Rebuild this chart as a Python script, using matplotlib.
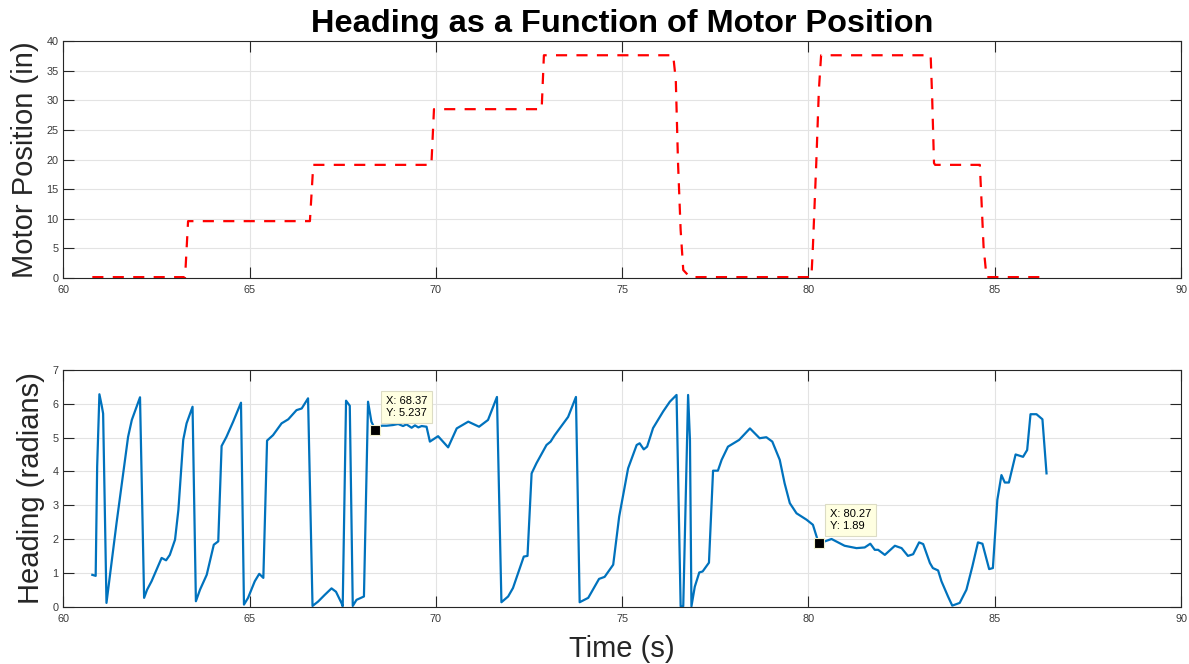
import matplotlib
matplotlib.use('Agg')
import matplotlib.pyplot as plt

plt.rcParams['font.family'] = ['Liberation Sans', 'DejaVu Sans']

# motor position (in) vs time (s)
motor_t = [60.78, 63.27, 63.35, 66.62, 66.71, 69.88, 69.95, 72.84, 72.90, 76.37,
           76.44, 76.50, 76.57, 76.64, 76.82, 80.08, 80.12, 80.21, 80.28, 80.34,
           83.28, 83.32, 83.37, 83.40, 84.60, 84.64, 84.70, 84.78, 86.39]
motor_in = [0.15, 0.15, 9.6, 9.6, 19.1, 19.1, 28.5, 28.5, 37.6, 37.6,
            33.4, 19.4, 8.1, 1.35, 0.15, 0.15, 5.3, 19.4, 31.7, 37.6,
            37.6, 30.6, 19.4, 19.1, 19.1, 13.7, 5.3, 0.15, 0.15]

# heading (radians) vs time (s)
heading_t = [60.78, 60.87, 60.91, 60.97, 61.03, 61.07, 61.16, 61.43, 61.74, 61.84,
             62.06, 62.17, 62.25, 62.37, 62.64, 62.76, 62.86, 63.00, 63.09, 63.22,
             63.31, 63.47, 63.56, 63.67, 63.85, 64.04, 64.16, 64.25, 64.38, 64.56,
             64.77, 64.85, 64.96, 65.14, 65.26, 65.37, 65.47, 65.63, 65.86, 66.04,
             66.26, 66.40, 66.57, 66.69, 66.84, 67.02, 67.20, 67.32, 67.47, 67.50,
             67.59, 67.69, 67.77, 67.87, 68.07, 68.18, 68.27, 68.37, 68.54, 68.68,
             68.85, 68.99, 69.12, 69.21, 69.35, 69.44, 69.53, 69.62, 69.75, 69.84,
             70.06, 70.33, 70.56, 70.87, 71.16, 71.40, 71.64, 71.76, 71.94, 72.07,
             72.36, 72.46, 72.57, 72.70, 72.97, 73.08, 73.19, 73.55, 73.76, 73.86,
             74.09, 74.38, 74.53, 74.76, 74.92, 75.16, 75.39, 75.47, 75.58, 75.67,
             75.83, 76.10, 76.28, 76.46, 76.57, 76.64, 76.77, 76.82, 76.86, 76.95,
             77.07, 77.16, 77.33, 77.44, 77.57, 77.67, 77.84, 78.14, 78.43, 78.69,
             78.87, 79.03, 79.23, 79.36, 79.50, 79.68, 79.95, 80.12, 80.27, 80.44,
             80.62, 80.97, 81.29, 81.51, 81.66, 81.78, 81.87, 82.05, 82.32, 82.50,
             82.67, 82.81, 82.97, 83.08, 83.26, 83.34, 83.48, 83.57, 83.75, 83.86,
             84.06, 84.24, 84.40, 84.55, 84.67, 84.85, 84.95, 85.07, 85.18, 85.27,
             85.38, 85.56, 85.76, 85.87, 85.96, 86.12, 86.28, 86.39]
heading_rad = [0.94, 0.91, 4.14, 6.28, 5.96, 5.71, 0.11, 2.47, 5.02, 5.52,
               6.19, 0.26, 0.50, 0.75, 1.44, 1.37, 1.53, 1.98, 2.86, 4.93,
               5.42, 5.91, 0.16, 0.50, 0.94, 1.83, 1.93, 4.75, 5.02, 5.47,
               6.03, 0.06, 0.26, 0.75, 0.97, 0.85, 4.91, 5.07, 5.42, 5.54,
               5.81, 5.86, 6.16, 0.02, 0.15, 0.35, 0.54, 0.44, 0.10, 0.01,
               6.09, 5.94, 0.02, 0.20, 0.30, 6.06, 5.47, 5.237, 5.35, 5.35,
               5.37, 5.40, 5.34, 5.39, 5.29, 5.36, 5.30, 5.34, 5.32, 4.88,
               5.04, 4.71, 5.27, 5.47, 5.32, 5.52, 6.20, 0.13, 0.30, 0.55,
               1.48, 1.50, 3.94, 4.24, 4.78, 4.88, 5.07, 5.61, 6.20, 0.13,
               0.26, 0.82, 0.88, 1.24, 2.66, 4.09, 4.78, 4.83, 4.65, 4.73,
               5.28, 5.77, 6.06, 6.26, 0.01, 0.01, 6.26, 4.93, 0.01, 0.59,
               1.01, 1.04, 1.30, 4.02, 4.02, 4.34, 4.73, 4.93, 5.27, 4.98,
               5.01, 4.88, 4.34, 3.65, 3.06, 2.76, 2.57, 2.42, 1.89, 1.93,
               2.00, 1.80, 1.73, 1.75, 1.86, 1.68, 1.68, 1.53, 1.80, 1.73,
               1.50, 1.55, 1.90, 1.85, 1.29, 1.14, 1.07, 0.75, 0.29, 0.03,
               0.11, 0.50, 1.19, 1.90, 1.86, 1.11, 1.14, 3.16, 3.89, 3.67,
               3.67, 4.50, 4.43, 4.63, 5.69, 5.69, 5.54, 3.94]

# data tips shown on the heading plot
tip_t = [68.37, 80.27]
tip_rad = [5.237, 1.89]
tip_text = ['X: 68.37\nY: 5.237', 'X: 80.27\nY: 1.89']

axis_col = '#262626'
fig = plt.figure(figsize=(11.89, 6.64), dpi=100)
ax1 = fig.add_axes([0.0532, 0.5813, 0.9401, 0.3569])
ax2 = fig.add_axes([0.0532, 0.0864, 0.9401, 0.3565])


def style(ax):
    ax.set_xlim(60, 90)
    ax.set_xticks(range(60, 91, 5))
    ax.grid(True, color='#e3e3e3', linewidth=0.8)
    ax.set_axisbelow(True)
    for s in ax.spines.values():
        s.set_color(axis_col)
        s.set_linewidth(0.8)
    ax.tick_params(direction='in', length=8, width=0.8, color=axis_col,
                   top=True, right=True, labelsize=7.8, labelcolor='#3a3a3a')
    ax.tick_params(axis='x', pad=5)
    ax.tick_params(axis='y', pad=3.5)


style(ax1)
ax1.plot(motor_t, motor_in, color='red', linestyle=(0, (5, 4.2)), linewidth=1.6)
ax1.set_ylim(0, 40)
ax1.set_yticks(range(0, 41, 5))
ax1.set_ylabel('Motor Position (in)', fontsize=21, color=axis_col, labelpad=5)
ax1.set_title('Heading as a Function of Motor Position', fontsize=23.4,
              fontweight='bold', pad=6.5)

style(ax2)
ax2.plot(heading_t, heading_rad, color='#0072BD', linewidth=1.6)
ax2.set_ylim(0, 7)
ax2.set_yticks(range(0, 8))
ax2.set_ylabel('Heading (radians)', fontsize=21, color=axis_col, labelpad=5)
ax2.set_xlabel('Time (s)', fontsize=21, color=axis_col, labelpad=8.5)

for t, r, txt in zip(tip_t, tip_rad, tip_text):
    ax2.plot(t, r, marker='s', markersize=6.5, color='black',
             markeredgecolor='#f2f2d0', markeredgewidth=0.8, zorder=5)
    ax2.annotate(txt, xy=(t, r), xytext=(11, 12), textcoords='offset pixels',
                 ha='left', va='bottom', fontsize=8, color='black',
                 linespacing=1.25,
                 bbox=dict(boxstyle='square,pad=0.45', fc='#ffffe1',
                           ec='#dcdcc4', lw=0.8), zorder=6)

fig.savefig('out.png', dpi=100)
